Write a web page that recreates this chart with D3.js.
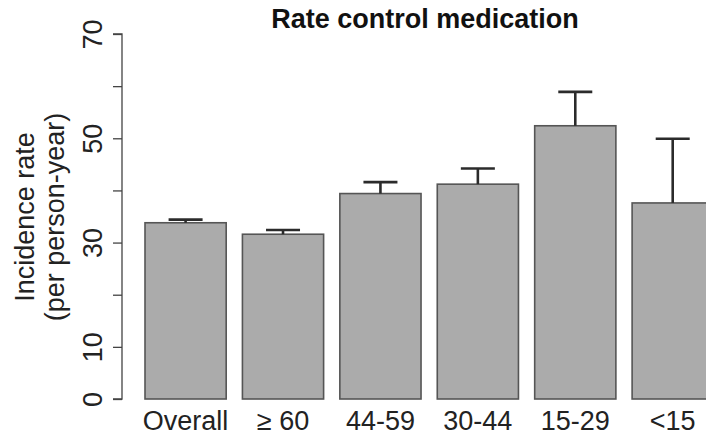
<!DOCTYPE html>
<html>
<head>
<meta charset="utf-8">
<script src="https://cdn.jsdelivr.net/npm/d3@7"></script>
<style>
  html, body { margin: 0; padding: 0; background: #fff; }
  svg { display: block; font-family: "Liberation Sans", Arial, sans-serif; }
</style>
</head>
<body>
<svg id="chart" width="706" height="435"></svg>
<script>
const categories = ["Overall", "\u2265 60", "44-59", "30-44", "15-29", "<15"];
const rates = [33.8, 31.6, 39.4, 41.2, 52.4, 37.6];
const upperCI = [34.4, 32.4, 41.6, 44.2, 58.9, 49.9];
const yTicks = [0, 10, 20, 30, 40, 50, 60, 70];
const yTickLabels = ["0", "10", "", "30", "", "50", "", "70"];
const titleText = "Rate control medication";
const yTitle = ["Incidence rate", "(per person-year)"];

const svg = d3.select("#chart");

const x = d3.scaleBand()
  .domain(categories)
  .range([145, 713.3])
  .paddingInner(1 / 6)
  .paddingOuter(0);

const y = d3.scaleLinear().domain([0, 70]).range([399, 34]);

// bars
svg.append("g").selectAll("rect")
  .data(categories)
  .join("rect")
  .attr("x", d => x(d))
  .attr("y", (d, i) => y(rates[i]))
  .attr("width", x.bandwidth())
  .attr("height", (d, i) => y(0) - y(rates[i]))
  .attr("fill", "#ababab")
  .attr("stroke", "#555")
  .attr("stroke-width", 1.6);

// error bars (upper only)
const eb = svg.append("g").attr("stroke", "#2b2b2b").attr("stroke-width", 2.6);
categories.forEach((c, i) => {
  const cx = x(c) + x.bandwidth() / 2;
  eb.append("line").attr("x1", cx).attr("x2", cx)
    .attr("y1", y(rates[i])).attr("y2", y(upperCI[i]));
  eb.append("line").attr("x1", cx - 17).attr("x2", cx + 17)
    .attr("y1", y(upperCI[i])).attr("y2", y(upperCI[i]));
});

// y axis
const yAxis = d3.axisLeft(y)
  .tickValues(yTicks)
  .tickSize(9)
  .tickPadding(12)
  .tickFormat((d, i) => yTickLabels[i]);

const ag = svg.append("g").attr("transform", "translate(122,0)").call(yAxis);
ag.select(".domain").attr("stroke", "#444").attr("stroke-width", 1.3).attr("d", `M-9,${y(0)}H0V${y(70)}H-9`);
ag.selectAll(".tick line").attr("stroke", "#444").attr("stroke-width", 1.3);
ag.selectAll(".tick text")
  .attr("font-size", 27)
  .attr("fill", "#222")
  .attr("text-anchor", "middle")
  .attr("dy", null)
  .attr("x", null)
  .attr("transform", "translate(-20,0) rotate(-90)")
  .attr("dominant-baseline", "auto");

// x labels
svg.append("g").selectAll("text")
  .data(categories)
  .join("text")
  .attr("x", d => x(d) + x.bandwidth() / 2)
  .attr("y", 430)
  .attr("text-anchor", "middle")
  .attr("font-size", 27)
  .attr("fill", "#222")
  .text(d => d);

// y title
const yt = svg.append("g").attr("transform", "translate(0,217)");
yt.append("text")
  .attr("transform", "translate(34,0) rotate(-90)")
  .attr("text-anchor", "middle")
  .attr("font-size", 27)
  .attr("fill", "#222")
  .text(yTitle[0]);
yt.append("text")
  .attr("transform", "translate(64,0) rotate(-90)")
  .attr("text-anchor", "middle")
  .attr("font-size", 27)
  .attr("fill", "#222")
  .text(yTitle[1]);

// title
svg.append("text")
  .attr("x", 425)
  .attr("y", 28)
  .attr("text-anchor", "middle")
  .attr("font-size", 27)
  .attr("font-weight", "bold")
  .attr("fill", "#111")
  .text(titleText);
</script>
</body>
</html>
